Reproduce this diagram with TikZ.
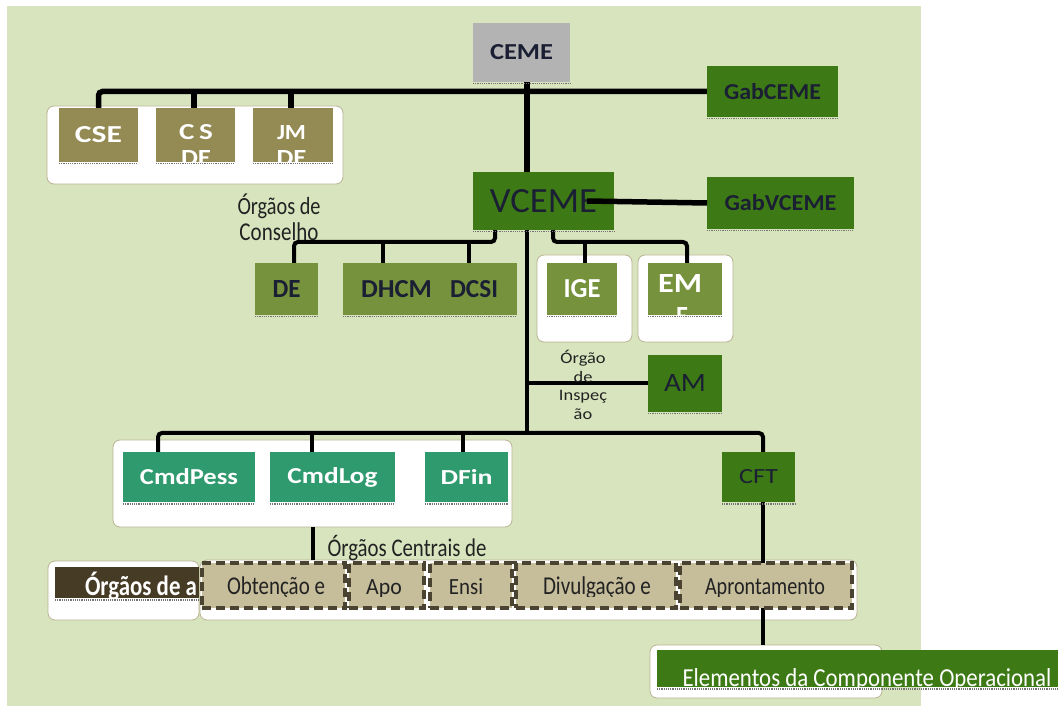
\documentclass[tikz,border=0pt]{standalone}
\usepackage{fontspec}
\setmainfont{Carlito}
\usepackage{graphicx}
\newcommand{\fitw}[2]{\resizebox{#1pt}{!}{\scalebox{1}[1.22]{#2}}}
\newcommand{\fitwh}[3]{\resizebox{#1pt}{#2pt}{#3}}
\newcommand{\wide}[1]{\scalebox{1.15}[1]{#1}}
\definecolor{bg}{HTML}{D7E4BD}
\definecolor{dkgreen}{HTML}{3D7A15}
\definecolor{olgreen}{HTML}{76923C}
\definecolor{olbrown}{HTML}{948A54}
\definecolor{tealb}{HTML}{2E9A6E}
\definecolor{dkbrown}{HTML}{463B24}
\definecolor{tanb}{HTML}{C6BD9B}
\definecolor{dashc}{HTML}{4A4331}
\definecolor{grayb}{HTML}{B3B3B3}
\definecolor{navy}{HTML}{1A1F33}
\definecolor{grpline}{HTML}{B9B393}
\definecolor{txt}{HTML}{222222}
\pgfdeclarelayer{back}
\pgfdeclarelayer{lines}
\pgfdeclarelayer{front}
\pgfsetlayers{back,lines,main,front}
\tikzset{
  fringe/.style={draw=black!55, line width=1.8pt, dash pattern=on 1.2pt off 1pt},
  box/.style={rectangle, inner sep=0pt, outer sep=0pt,
    append after command={([yshift=-1.6pt]\tikzlastnode.south west) edge[fringe] ([yshift=-1.6pt]\tikzlastnode.south east)}},
  grp/.style={rectangle, draw=grpline, line width=0.8pt, fill=white, rounded corners=7pt, inner sep=0pt},
  dashbox/.style={rectangle, fill=tanb, draw=dashc, line width=3.5pt, dash pattern=on 9pt off 5pt, inner sep=0pt},
  conn/.style={draw=black, line width=4pt, rounded corners=4pt},
  heavy/.style={conn, line width=5.5pt},
  lbl/.style={inner sep=0pt, outer sep=0pt},
  dtxt/.style={lbl, anchor=base, text=txt, font=\fontsize{19}{22}\selectfont},
}
\begin{document}
\begin{tikzpicture}[x=1pt,y=-1pt, font=\fontsize{20}{24}\selectfont]
\useasboundingbox (0,0) rectangle (1058,708);
\begin{pgfonlayer}{back}
\fill[bg] (7,6) rectangle (921,706);
\node[grp, minimum width=296pt, minimum height=78pt] (cogrp) at (195,145) {};
\node[grp, minimum width=95pt, minimum height=87pt] (igegrp) at (584.5,298.5) {};
\node[grp, minimum width=95pt, minimum height=87pt] (emgrp) at (685.5,298.5) {};
\node[grp, minimum width=399pt, minimum height=87pt] (cgrp) at (312.5,483.5) {};
\node[grp, minimum width=151pt, minimum height=59pt] (agrp) at (123.5,590.5) {};
\node[grp, minimum width=657pt, minimum height=60pt] (sgrp) at (528.5,590) {};
\node[grp, minimum width=232pt, minimum height=53pt] (elgrp) at (766,671.5) {};
\end{pgfonlayer}

% top level
\node[box, fill=grayb, minimum width=97pt, minimum height=59pt, text=navy] (ceme) at (521.5,52.5) {\fitwh{63}{15}{\bfseries CEME}};
\node[box, fill=dkgreen, minimum width=131pt, minimum height=51pt, text=navy] (gabceme) at (772.5,91.5) {\fitwh{97}{16}{\bfseries GabCEME}};
\node[box, fill=dkgreen, minimum width=141pt, minimum height=58pt, text=navy] (vceme) at (543.5,201) {\fitwh{107}{23}{VCEME}};
\node[box, fill=dkgreen, minimum width=147pt, minimum height=52pt, text=navy] (gabvceme) at (780.5,203) {\fitwh{112}{16}{\bfseries GabVCEME}};

% council
\node[box, fill=olbrown, minimum width=79pt, minimum height=54pt, text=white] (cse) at (98.5,135) {\fitwh{47}{16}{\bfseries CSE}};
\node[box, fill=olbrown, minimum width=79pt, minimum height=54pt] (csde) at (195.5,135) {};
\node[box, fill=olbrown, minimum width=80pt, minimum height=54pt] (jmde) at (293,135) {};
\begin{scope}
\clip (csde.south west) rectangle (csde.north east);
\node[lbl, text=white] (csdea) at (196,132.5) {\fitwh{34}{15}{\bfseries C\,S}};
\node[lbl, text=white] (csdeb) at (196,158) {\fitwh{30}{15}{\bfseries DE}};
\end{scope}
\begin{scope}
\clip (jmde.south west) rectangle (jmde.north east);
\node[lbl, text=white] (jmdea) at (291.5,133) {\fitwh{29}{14}{\bfseries JM}};
\node[lbl, text=white] (jmdeb) at (291.5,158) {\fitwh{30}{15}{\bfseries DE}};
\end{scope}
\node[lbl, text=txt, align=center, font=\fontsize{20}{26}\selectfont] (conslbl) at (279,217) {\fitw{83}{Órgãos de}\\\fitw{79}{Conselho}};

% directorates
\node[box, fill=olgreen, minimum width=63pt, minimum height=52pt, text=navy] (de) at (286.5,289) {\fitwh{28}{17}{\bfseries DE}};
\node[box, fill=olgreen, minimum width=97pt, minimum height=52pt, text=navy] (dhcm) at (391.5,289) {\hspace*{10pt}\fitwh{71}{17}{\bfseries DHCM}};
\node[box, fill=olgreen, minimum width=77pt, minimum height=52pt, text=navy] (dcsi) at (478.5,289) {\fitwh{48}{17}{\bfseries DCSI}\hspace*{9pt}};
\node[box, fill=olgreen, minimum width=70pt, minimum height=52pt, text=white] (ige) at (582,289) {\fitwh{37}{18}{\bfseries IGE}};
\node[box, fill=olgreen, minimum width=74pt, minimum height=52pt] (em) at (685,289) {};
\begin{scope}
\clip (em.south west) rectangle (em.north east);
\node[lbl, text=white] (ema) at (680,284) {\fitwh{44}{18}{\bfseries EM}};
\node[lbl, text=white] (emb) at (682,317) {\fitwh{12}{18}{\bfseries E}};
\end{scope}
\node[lbl, text=txt, align=center, font=\fontsize{16}{18.5}\selectfont] (insp) at (583,385) {\wide{Órgão}\\\wide{de}\\\wide{Inspeç}\\\wide{ão}};
\node[box, fill=dkgreen, minimum width=74pt, minimum height=57pt, text=navy] (am) at (685,383.5) {\fitwh{42}{17}{AM}};

% central organs
\node[box, fill=tealb, minimum width=132pt, minimum height=50pt, text=white] (cmdpess) at (189,477) {\fitwh{98}{16}{\bfseries CmdPess}};
\node[box, fill=tealb, minimum width=125pt, minimum height=50pt, text=white] (cmdlog) at (332.5,477) {\fitwh{90}{16}{\bfseries CmdLog}};
\node[box, fill=tealb, minimum width=83pt, minimum height=50pt, text=white] (dfin) at (466.5,477) {\fitwh{52}{15}{\bfseries DFin}};
\node[lbl, text=txt] (centlbl) at (407,548) {\fitw{159}{Órgãos Centrais de}};
\node[box, fill=dkgreen, minimum width=73pt, minimum height=50pt, text=navy] (cft) at (758.5,477) {\fitwh{39}{14}{CFT}};

% support organs
\node[box, fill=dkbrown, minimum width=144pt, minimum height=31pt] (orgbox) at (127,582.5) {};
\begin{scope}
\clip (orgbox.south west) rectangle (orgbox.north east);
\node[lbl, anchor=base, text=white] (orgtxt) at (141,595) {\fitw{112}{\bfseries Órgãos de a}};
\end{scope}
\node[dashbox, minimum width=143pt, minimum height=45pt] (obt) at (273.5,585.5) {};
\node[dashbox, minimum width=75pt, minimum height=45pt] (apo) at (386.5,585.5) {};
\node[dashbox, minimum width=82pt, minimum height=45pt] (ensi) at (471,585.5) {};
\node[dashbox, minimum width=160pt, minimum height=45pt] (divu) at (596,585.5) {};
\node[dashbox, minimum width=172pt, minimum height=45pt] (apr) at (766,585.5) {};
\begin{scope}
\clip (200,560) rectangle (857,596);
\node[dtxt] (obtt) at (276,594) {\fitw{98}{Obtenção e}};
\node[dtxt] (apot) at (384,594) {\scalebox{1.15}[1.22]{Apo}};
\node[dtxt] (ensit) at (466,594) {\scalebox{1.1}[1.22]{Ensi}};
\node[dtxt] (divut) at (597,594) {\fitw{108}{Divulgação e}};
\node[dtxt] (aprt) at (765,594) {\fitw{120}{Aprontamento}};
\end{scope}

% operational component
\node[box, fill=dkgreen, minimum width=401pt, minimum height=37pt] (elem) at (857.5,668.5) {};
\begin{scope}
\clip (elem.south west) rectangle (elem.north east);
\node[lbl, anchor=base, text=white] (elemt) at (867,686) {\fitwh{369}{18}{Elementos da Componente Operacional}};
\end{scope}

% connectors
\coordinate (mv) at (527,433);
\coordinate (lb) at (495,242);
\coordinate (rb) at (553,242);
\begin{pgfonlayer}{lines}
\draw[heavy] (gabceme.west) -| (cse.north);
\draw[heavy] ([xshift=-1.5pt]csde.north |- gabceme.west) -- ([xshift=-1.5pt]csde.north);
\draw[heavy] ([xshift=-2pt]jmde.north |- gabceme.west) -- ([xshift=-2pt]jmde.north);
\draw[heavy] (ceme.south -| mv) -- (vceme.north -| mv);
\draw[conn, line width=4.5pt] (vceme.south -| mv) -- (mv);
\draw[conn] (vceme.south -| lb) -- (lb) -| ([xshift=7.5pt]de.north);
\draw[conn] ([xshift=-8.5pt]dhcm.north |- lb) -- ([xshift=-8.5pt]dhcm.north);
\draw[conn] ([xshift=-9.5pt]dcsi.north |- lb) -- ([xshift=-9.5pt]dcsi.north);
\draw[conn] (vceme.south -| rb) -- (rb) -| ([xshift=2pt]em.north);
\draw[conn] ([xshift=3pt]ige.north |- rb) -- ([xshift=3pt]ige.north);
\draw[conn] (am.west -| mv) -- (am.west);
\draw[conn] ([xshift=-31pt]cmdpess.north) |- (mv) -| ([xshift=4.5pt]cft.north);
\draw[conn] ([xshift=-20.5pt]cmdlog.north |- mv) -- ([xshift=-20.5pt]cmdlog.north);
\draw[conn] ([xshift=-3.5pt]dfin.north |- mv) -- ([xshift=-3.5pt]dfin.north);
\draw[conn] (cgrp.south) -- (cgrp.south |- sgrp.north);
\draw[conn] ([xshift=4.5pt]cft.south) -- ([xshift=4.5pt]cft.south |- elgrp.north);
\end{pgfonlayer}
\begin{pgfonlayer}{front}
\draw[heavy] ([xshift=43.5pt]vceme.center) -- (gabvceme.west);
\end{pgfonlayer}
\end{tikzpicture}
\end{document}
